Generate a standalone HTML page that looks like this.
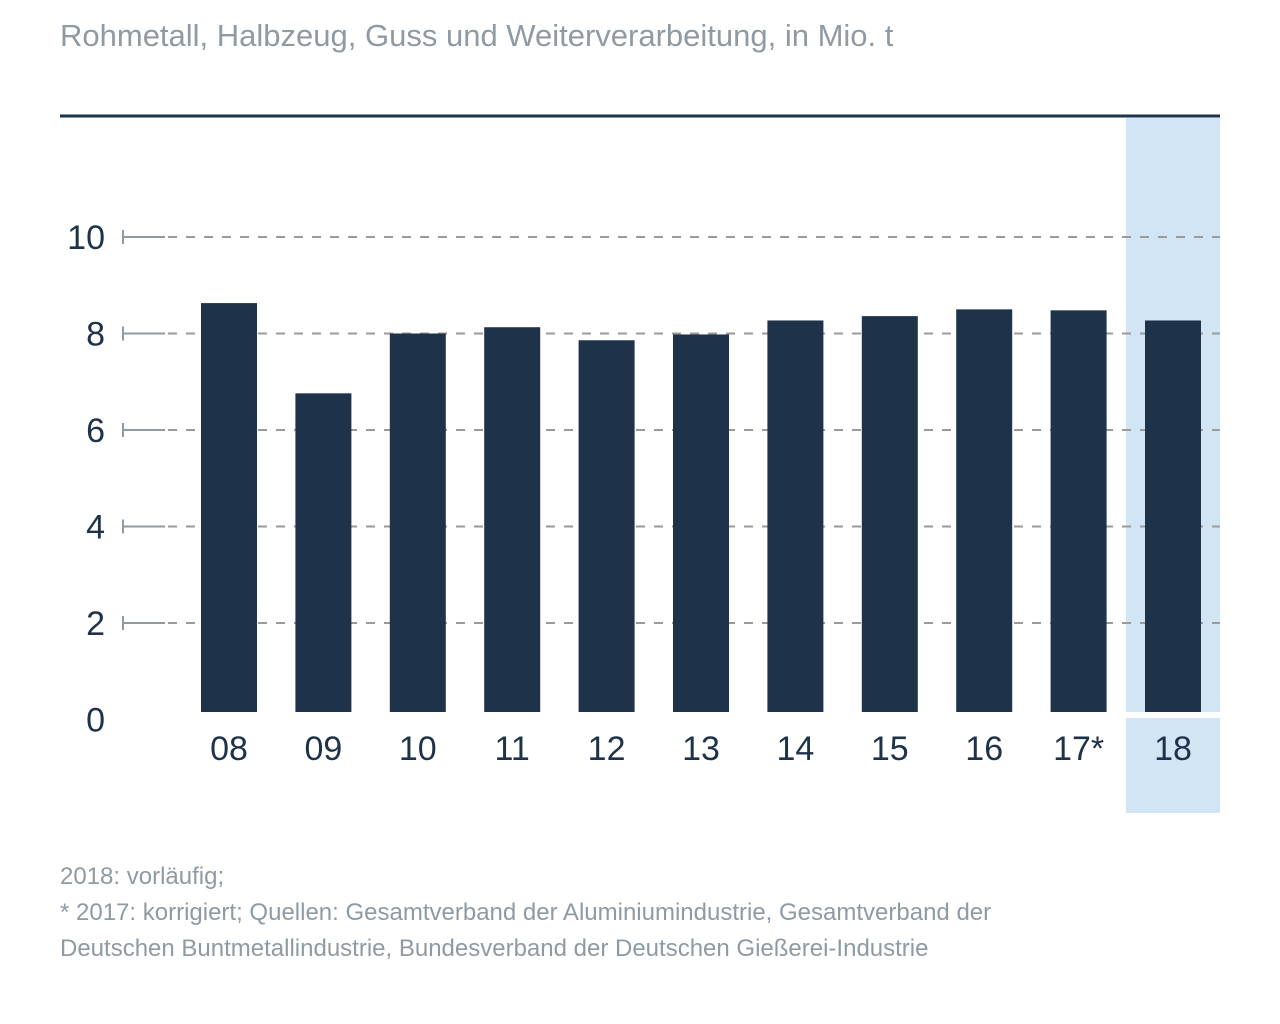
<!DOCTYPE html>
<html><head><meta charset="utf-8"><style>
body{margin:0;background:#fff;width:1280px;height:1019px;overflow:hidden;font-family:"Liberation Sans",sans-serif}
</style></head><body>
<svg width="1280" height="1019" xmlns="http://www.w3.org/2000/svg">
<text x="60" y="46" font-size="31" fill="#8f9aa3">Rohmetall, Halbzeug, Guss und Weiterverarbeitung, in Mio. t</text>
<rect x="1126" y="118" width="94" height="695" fill="#d1e5f5"/>
<rect x="60" y="114.5" width="1160" height="3" fill="#1e3249"/>
<g id="grid"></g><g id="bars"></g><g id="labels"></g>
<rect x="1126" y="712" width="94" height="6" fill="#fff"/>
<text x="60" y="884" font-size="24" fill="#8f9aa3">2018: vorläufig;</text>
<text x="60" y="920" font-size="24" fill="#8f9aa3">* 2017: korrigiert; Quellen: Gesamtverband der Aluminiumindustrie, Gesamtverband der</text>
<text x="60" y="956" font-size="24" fill="#8f9aa3">Deutschen Buntmetallindustrie, Bundesverband der Deutschen Gießerei-Industrie</text>
</svg>
<script>
const categories=["08","09","10","11","12","13","14","15","16","17*","18"];
const values=[8.63,6.76,8.0,8.13,7.86,7.98,8.27,8.36,8.5,8.48,8.27];
const yTicks=[0,2,4,6,8,10];
const NS="http://www.w3.org/2000/svg";
const y=v=>719.5-v*48.25;
const x=i=>201+i*94.4;
function mk(t,a,p){const e=document.createElementNS(NS,t);for(const k in a)e.setAttribute(k,a[k]);p.appendChild(e);return e;}
const g=document.getElementById('grid'),b=document.getElementById('bars'),l=document.getElementById('labels');
yTicks.forEach(v=>{
  const t=mk('text',{x:105,y:y(v)+12,'font-size':34,fill:'#1e3249','text-anchor':'end'},l);t.textContent=v;
  
  
  if(v>0){
    const ln=mk('line',{x1:122,x2:165,y1:y(v),y2:y(v),stroke:'#8f9aa3','stroke-width':2},g);
    
    
    const vt=mk('line',{x1:123,x2:123,y1:y(v)-7,y2:y(v)+7,stroke:'#8f9aa3','stroke-width':2},g);
    
    
    const d=mk('line',{x1:168,x2:1220,y1:y(v),y2:y(v),stroke:'#9a9a9a','stroke-width':2,'stroke-dasharray':'9 9'},g);
    
    
  }
});
values.forEach((v,i)=>{
  const r=mk('rect',{x:x(i),y:y(v),width:56,height:712-y(v),fill:'#1e3249'},b);
  
  
  const t=mk('text',{x:x(i)+28,y:760,'font-size':34,fill:'#1e3249','text-anchor':'middle'},l);t.textContent=categories[i];
  
  
});
</script>
</body></html>
